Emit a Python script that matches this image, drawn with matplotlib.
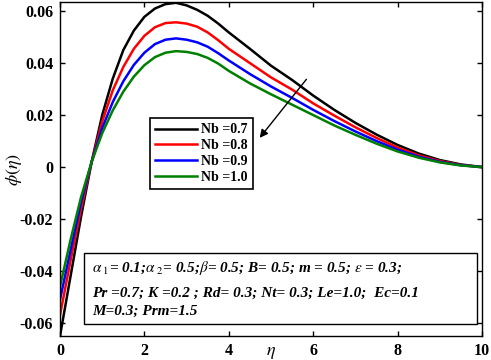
import numpy as np
import matplotlib
matplotlib.use("Agg")
import matplotlib.pyplot as plt
from matplotlib.patches import Rectangle

plt.rcParams['font.family'] = ['Liberation Serif', 'DejaVu Serif']
plt.rcParams['mathtext.fontset'] = 'stix'

# values
eta = [0, 0.25, 0.5, 0.75, 1.0, 1.25, 1.5, 1.75, 2.0, 2.25, 2.5, 2.75, 3.0,
       3.25, 3.5, 3.75, 4.0, 4.5, 5.0, 5.5, 6.0, 6.5, 7.0, 7.5, 8.0, 8.5,
       9.0, 9.5, 10.0]
phi_07 = [-0.065, -0.042, -0.019, 0.002, 0.020, 0.034, 0.045, 0.0525, 0.0578,
          0.061, 0.0627, 0.0632, 0.0622, 0.0605, 0.0582, 0.0552, 0.0518,
          0.0455, 0.0390, 0.0335, 0.0275, 0.0220, 0.0170, 0.0125, 0.0085,
          0.0052, 0.0027, 0.0010, 0.0]
phi_08 = [-0.057, -0.036, -0.016, 0.002, 0.0175, 0.0295, 0.0385, 0.0455,
          0.0505, 0.0538, 0.0554, 0.0557, 0.0552, 0.0540, 0.0518, 0.0488,
          0.0455, 0.0400, 0.0345, 0.0298, 0.0245, 0.0198, 0.0153, 0.0112,
          0.0075, 0.0045, 0.0023, 0.0008, 0.0]
phi_09 = [-0.051, -0.032, -0.0135, 0.002, 0.0150, 0.0250, 0.0330, 0.0393,
          0.0440, 0.0473, 0.0490, 0.0495, 0.0490, 0.0480, 0.0463, 0.0438,
          0.0410, 0.0358, 0.0310, 0.0266, 0.0220, 0.0177, 0.0137, 0.0100,
          0.0067, 0.0040, 0.0020, 0.0007, 0.0]
phi_10 = [-0.046, -0.028, -0.0115, 0.002, 0.0130, 0.0218, 0.0290, 0.0348,
          0.0392, 0.0423, 0.0440, 0.0446, 0.0443, 0.0435, 0.0420, 0.0398,
          0.0370, 0.0322, 0.0280, 0.0240, 0.0200, 0.0160, 0.0124, 0.0090,
          0.0060, 0.0036, 0.0018, 0.0006, 0.0]
labels = ['Nb =0.7', 'Nb =0.8', 'Nb =0.9', 'Nb =1.0']
colors = ['black', 'red', 'blue', 'green']

xticks = [0, 2, 4, 6, 8, 10]
yticks = [-0.06, -0.04, -0.02, 0, 0.02, 0.04, 0.06]
ytick_labels = ['-0.06', '-0.04', '-0.02', '0', '0.02', '0.04', '0.06']

fig = plt.figure(figsize=(4.91, 3.6), dpi=100)
ax = fig.add_axes([0.1222, 0.0667, 0.8595, 0.9277])

for y, c, lab in zip([phi_07, phi_08, phi_09, phi_10], colors, labels):
    ax.plot(eta, y, color=c, lw=1.8, label=lab)

ax.set_xlim(0, 10)
ax.set_ylim(-0.065, 0.0635)
ax.set_xticks(xticks)
ax.set_xticklabels([str(t) for t in xticks], fontweight='bold', fontsize=11.5)
ax.set_yticks(yticks)
ax.set_yticklabels(ytick_labels, fontweight='bold', fontsize=11.5)
ax.tick_params(direction='in', length=3.5, width=1, top=True, right=True,
               pad=5)
for s in ax.spines.values():
    s.set_linewidth(1.0)

ax.set_xlabel(r'$\eta$', fontsize=13)
ax.xaxis.set_label_coords(0.5, -0.048)
ax.xaxis.label.set_va('center')
ax.set_ylabel(r'$\phi(\eta)$', fontsize=13)
ax.yaxis.set_label_coords(-0.109, 0.5)
ax.yaxis.label.set_va('center')

leg = ax.legend(loc='upper left', bbox_to_anchor=(0.213, 0.653),
                borderaxespad=0, fancybox=False, edgecolor='black',
                framealpha=1, handlelength=3.0, handletextpad=0.3,
                labelspacing=0.2, borderpad=0.4,
                prop={'weight': 'bold', 'size': 10})
leg.get_frame().set_linewidth(1.2)

ax.annotate('', xy=(4.69, 0.0104), xytext=(5.88, 0.0346),
            arrowprops=dict(arrowstyle='-|>', color='black', lw=1,
                            mutation_scale=12))

ax.add_patch(Rectangle((0.0569, 0.0359), 0.931, 0.2126, transform=ax.transAxes,
                       fill=True, facecolor='white', edgecolor='black', lw=1.0,
                       zorder=5))
txt = dict(transform=ax.transAxes, fontsize=11, fontweight='bold',
           style='italic', va='baseline', ha='left', zorder=6)
ax.text(0.0758, 0.1916,
        r'$\alpha_{\ 1}$= 0.1;$\alpha_{\ 2}$= 0.5;$\beta$= 0.5; B= 0.5; m = 0.5; $\epsilon$ = 0.3;',
        **txt)
ax.text(0.0758, 0.1168, 'Pr =0.7; K =0.2 ; Rd= 0.3; Nt= 0.3; Le=1.0;  Ec=0.1',
        **txt)
ax.text(0.0758, 0.0629, 'M=0.3; Prm=1.5', **txt)

fig.savefig('out.png', dpi=100)
